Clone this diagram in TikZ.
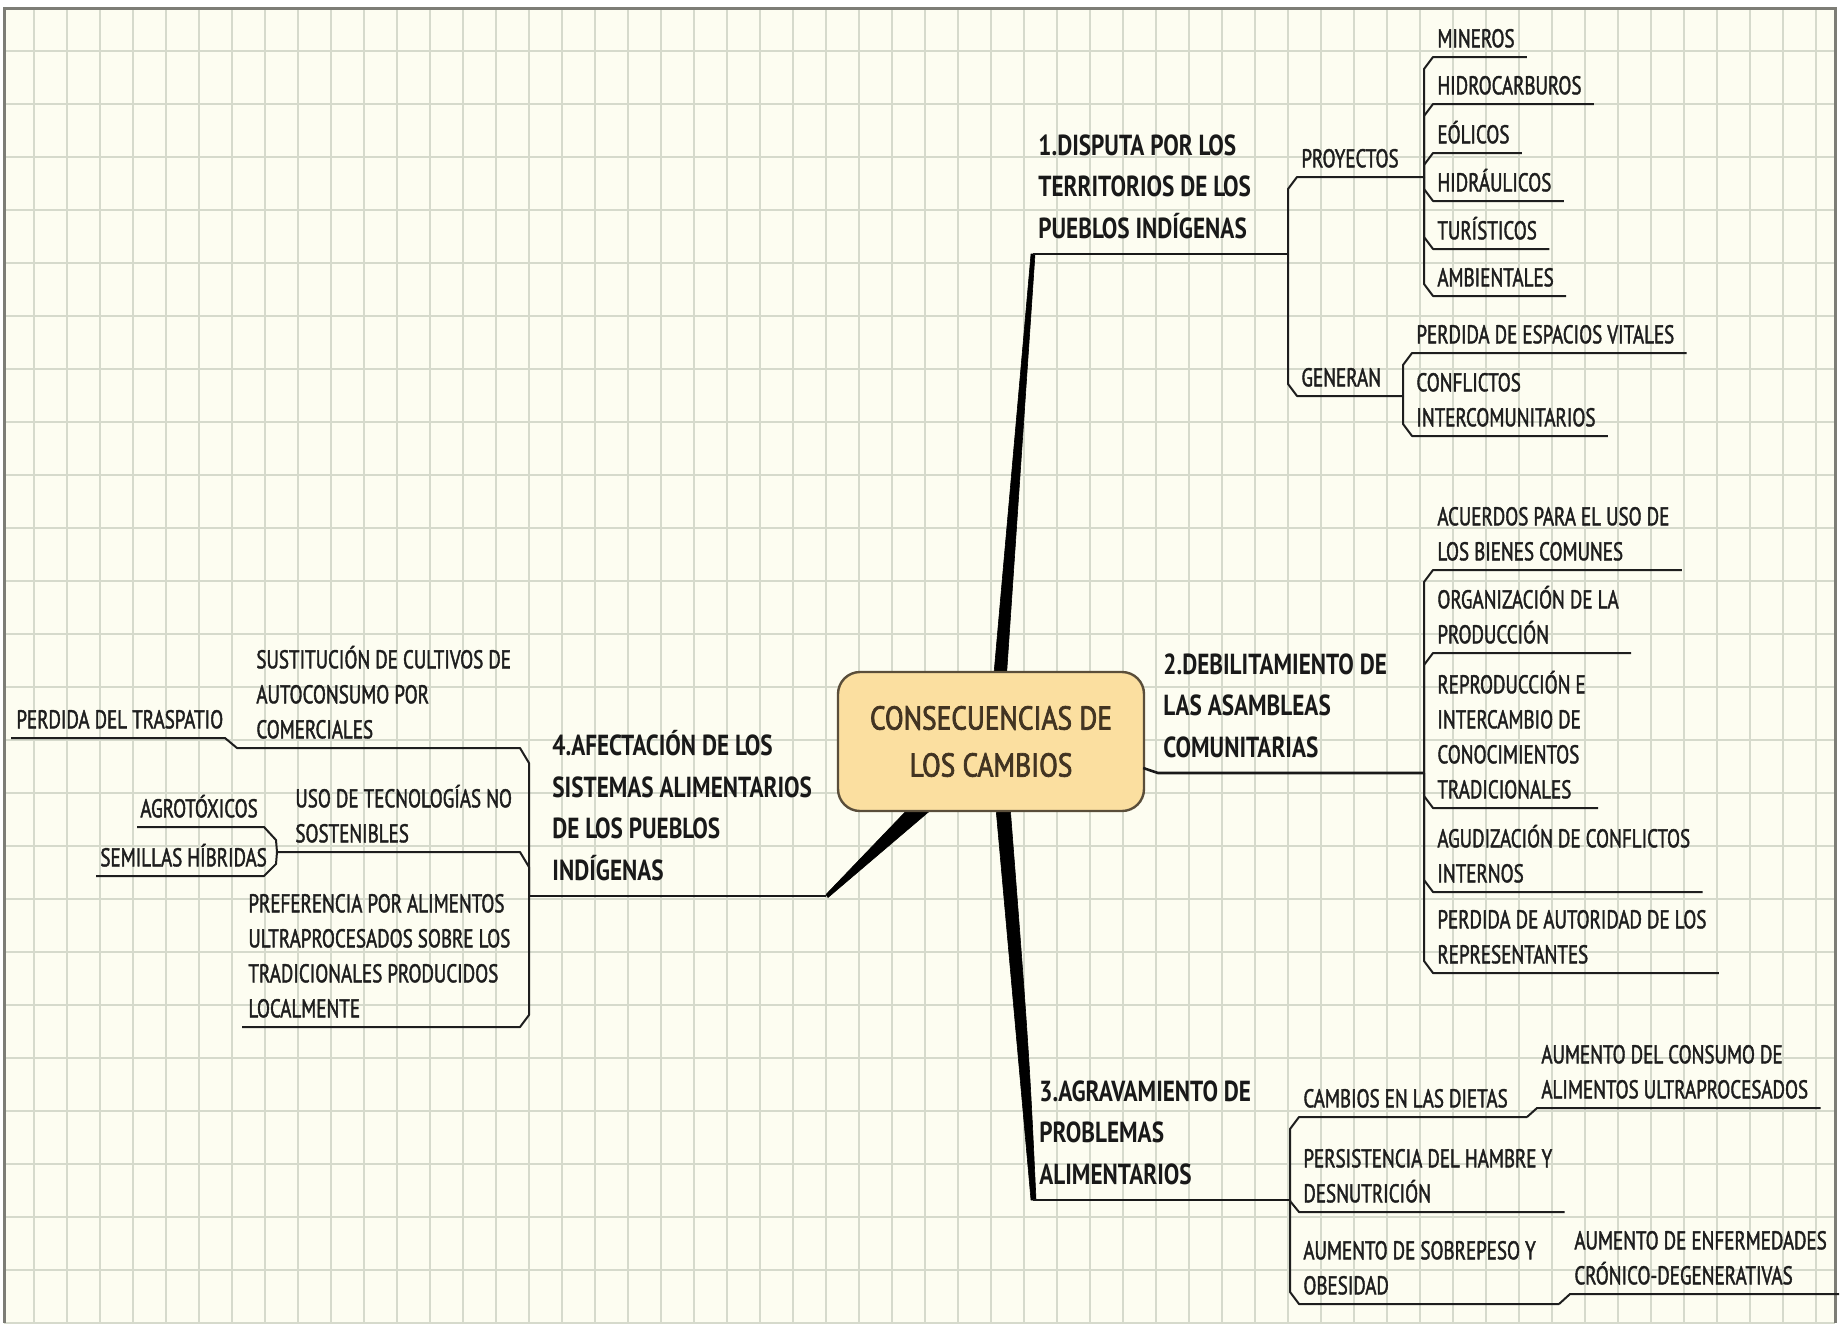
\documentclass[tikz,border=0pt]{standalone}
\usepackage{fontspec}
\setmainfont{PT Sans}
\newfontfamily\leaffont[FakeStretch=0.74,FakeBold=1.6]{PT Sans}
\newfontfamily\branchfont[FakeStretch=0.80]{PT Sans}
\newfontfamily\centerfont[FakeStretch=0.83,FakeBold=2.2]{PT Sans}
\usetikzlibrary{calc}
\definecolor{bgc}{RGB}{253,253,241}
\definecolor{gridc}{RGB}{214,218,204}
\definecolor{framec}{RGB}{125,125,118}
\definecolor{inkc}{RGB}{30,30,30}
\definecolor{boxfill}{RGB}{251,223,160}
\definecolor{boxline}{RGB}{90,78,58}
\definecolor{boxtext}{RGB}{66,52,34}
\tikzset{
 leaf/.style={inner xsep=0pt, inner ysep=4.5pt, anchor=south west, align=left, text=inkc, font=\leaffont\fontsize{12.85}{17.5}\selectfont},
 branch/.style={inner xsep=0pt, inner ysep=7.5pt, anchor=south west, align=left, text=black!90, font=\branchfont\bfseries\fontsize{14.5}{20.75}\selectfont},
 ln/.style={draw=inkc, line width=1pt, line join=round},
 bln/.style={draw=black!90, line width=1.3pt, line join=round},
 wedge/.style={fill=black, draw=black, line width=0.3pt, line join=round},
 centrebox/.style={draw=boxline, line width=1.2pt, fill=boxfill, rounded corners=11pt, minimum width=153pt, minimum height=69.5pt, align=center, text=boxtext, inner sep=0pt, font=\centerfont\fontsize{16.5}{23.5}\selectfont},
 gridline/.style={draw=gridc, line width=0.75pt}
}
\newcommand\rleaf[3]{\draw[ln] (#1) -- ($(#2.south west)+(-13,#3)$) -- ($(#2.south west)+(-4,0)$) -- ($(#2.south east)+(12,0)$);}
\newcommand\rpar[4]{\draw[ln] (#1) -- ($(#2.south west)+(-13,#3)$) -- ($(#2.south west)+(-4,0)$) -- (#4);}
\newcommand\lleaf[3]{\draw[ln] (#1) -- ($(#1 |- #2.south)+(0,#3)$) -- ($(#1 |- #2.south)+(-9,0)$) -- ($(#2.south west)+(-6,0)$);}
\begin{document}
\begin{tikzpicture}[x=0.5pt,y=-0.5pt]
\useasboundingbox (0,0) rectangle (1840,1323);
\clip (0,0) rectangle (1840,1323);
\fill[white] (0,0) rectangle (1840,1323);
\fill[bgc] (4,8) rectangle (1835,1323);
\foreach \gx in {34,67,...,1834} \draw[gridline] (\gx,8) -- (\gx,1323);
\foreach \gy in {51,104,...,1323} \draw[gridline] (4,\gy) -- (1835,\gy);
\draw[framec, line width=1.5pt] (4,1323) -- (4,8) -- (1835,8) -- (1835,1323);

% centre and wedge tips
\coordinate (cc) at (991,741.5);
\coordinate (t1) at (1033,254);
\coordinate (t3) at (1033,1200);
\coordinate (t4) at (826,896);
\fill[wedge] ($(cc)+(-3,0)$) -- ($(t1)+(-2,0)$) -- ($(t1)+(2,0)$) -- ($(cc)+(11,0)$) -- cycle;
\fill[wedge] ($(cc)+(-1,0)$) -- ($(t3)+(-2,0)$) -- ($(t3)+(3,0)$) .. controls ($(t3)+(-4,-150)$) .. ($(cc)+(14,0)$) -- cycle;
\fill[wedge] ($(cc)+(-58,41.5)$) -- ($(t4)+(0,-1.5)$) -- ($(t4)+(2,1.5)$) -- ($(cc)+(-45,55.5)$) -- cycle;
\node[centrebox] (cbox) at (cc) {CONSECUENCIAS DE\\LOS CAMBIOS};

% main branches
\node[branch] (b1) at (1038,254) {1.DISPUTA POR LOS\\TERRITORIOS DE LOS\\PUEBLOS INDÍGENAS};
\node[branch] (b2) at (1163,773) {2.DEBILITAMIENTO DE\\LAS ASAMBLEAS\\COMUNITARIAS};
\node[branch] (b3) at (1039,1200) {3.AGRAVAMIENTO DE\\PROBLEMAS\\ALIMENTARIOS};
\node[branch] (b4) at (552,896) {4.AFECTACIÓN DE LOS\\SISTEMAS ALIMENTARIOS\\DE LOS PUEBLOS\\INDÍGENAS};

% junctions
\coordinate (b1j) at (1288,254);
\coordinate (pj) at (1424,177);
\coordinate (gj) at (1403,396);
\coordinate (b2j) at (1424,773);
\coordinate (b3j) at (1290,1200);
\coordinate (cj) at (1527,1117);
\coordinate (aj) at (1559,1304);
\coordinate (b4j) at (529,896);

% branch 1 leaves
\node[leaf] (proy) at (1301,177) {PROYECTOS};
\node[leaf] (gen) at (1301,396) {GENERAN};
\node[leaf] (p1) at (1437,57) {MINEROS};
\node[leaf] (p2) at (1437,104) {HIDROCARBUROS};
\node[leaf] (p3) at (1437,153) {EÓLICOS};
\node[leaf] (p4) at (1437,201) {HIDRÁULICOS};
\node[leaf] (p5) at (1437,249) {TURÍSTICOS};
\node[leaf] (p6) at (1437,296) {AMBIENTALES};
\node[leaf] (g1) at (1416,353) {PERDIDA DE ESPACIOS VITALES};
\node[leaf] (g2) at (1416,436) {CONFLICTOS\\INTERCOMUNITARIOS};

% branch 2 leaves
\node[leaf] (d1) at (1437,570) {ACUERDOS PARA EL USO DE\\LOS BIENES COMUNES};
\node[leaf] (d2) at (1437,653) {ORGANIZACIÓN DE LA\\PRODUCCIÓN};
\node[leaf] (d3) at (1437,808) {REPRODUCCIÓN E\\INTERCAMBIO DE\\CONOCIMIENTOS\\TRADICIONALES};
\node[leaf] (d4) at (1437,892) {AGUDIZACIÓN DE CONFLICTOS\\INTERNOS};
\node[leaf] (d5) at (1437,973) {PERDIDA DE AUTORIDAD DE LOS\\REPRESENTANTES};

% branch 3 leaves
\node[leaf] (c1) at (1303,1117) {CAMBIOS EN LAS DIETAS};
\node[leaf] (c2) at (1303,1212) {PERSISTENCIA DEL HAMBRE Y\\DESNUTRICIÓN};
\node[leaf] (c3) at (1303,1304) {AUMENTO DE SOBREPESO Y\\OBESIDAD};
\node[leaf] (c11) at (1541,1108) {AUMENTO DEL CONSUMO DE\\ALIMENTOS ULTRAPROCESADOS};
\node[leaf] (c31) at (1574,1294) {AUMENTO DE ENFERMEDADES\\CRÓNICO-DEGENERATIVAS};

% branch 4 leaves
\node[leaf] (a1) at (256,748) {SUSTITUCIÓN DE CULTIVOS DE\\AUTOCONSUMO POR\\COMERCIALES};
\node[leaf] (a11) at (16,738) {PERDIDA DEL TRASPATIO};
\node[leaf] (a2) at (295,852) {USO DE TECNOLOGÍAS NO\\SOSTENIBLES};
\node[leaf] (a21) at (140,827) {AGROTÓXICOS};
\node[leaf] (a22) at (100,876) {SEMILLAS HÍBRIDAS};
\node[leaf] (a3) at (248,1027) {PREFERENCIA POR ALIMENTOS\\ULTRAPROCESADOS SOBRE LOS\\TRADICIONALES PRODUCIDOS\\LOCALMENTE};
\coordinate (a1j) at ($(a1.south west)+(-6,0)$);
\coordinate (a2j) at ($(a2.south west)+(-18,0)$);
\coordinate (b2a) at ($(b2.south west)+(-5,0)$);
\coordinate (b2s) at ($(cbox.east)+(-2,26.5)$);

% connectors branch 1
\draw[bln] (t1) -- (b1j);
\rpar{b1j}{proy}{12}{pj}
\rpar{b1j}{gen}{-12}{gj}
\rleaf{pj}{p1}{12}
\rleaf{pj}{p2}{12}
\rleaf{pj}{p3}{12}
\rleaf{pj}{p4}{-12}
\rleaf{pj}{p5}{-12}
\rleaf{pj}{p6}{-12}
\rleaf{gj}{g1}{12}
\rleaf{gj}{g2}{-12}
% branch 2
\draw[bln] (b2s) -- (b2a) -- (b2j);
\rleaf{b2j}{d1}{12}
\rleaf{b2j}{d2}{12}
\rleaf{b2j}{d3}{-12}
\rleaf{b2j}{d4}{-12}
\rleaf{b2j}{d5}{-12}
% branch 3
\draw[bln] (t3) -- (b3j);
\rpar{b3j}{c1}{12}{cj}
\rleaf{b3j}{c2}{-11}
\rpar{b3j}{c3}{-12}{aj}
\draw[ln] (cj) -- ($(c11.south west)+(-4,0)$) -- ($(c11.south east)+(12,0)$);
\draw[ln] (aj) -- ($(c31.south west)+(-4,0)$) -- ($(c31.south east)+(12,0)$);
% branch 4
\draw[bln] (b4j) -- (t4);
\lleaf{b4j}{a1}{15}
\draw[ln] (b4j) -- ($(b4j |- a2.south)+(0,15)$) -- ($(b4j |- a2.south)+(-9,0)$) -- (a2j);
\lleaf{b4j}{a3}{-12}
\draw[ln] (a1j) -- ++(-13,0) -- ++(-12,-10) -- ($(a11.south west)+(-5,0)$);
\draw[ln] (a2j) -- ++(-1,-12) -- ++(-12,-13) -- ($(a21.south west)+(-3,0)$);
\draw[ln] (a2j) -- ++(-1,12) -- ++(-12,12) -- ($(a22.south west)+(-4,0)$);
\end{tikzpicture}
\end{document}
